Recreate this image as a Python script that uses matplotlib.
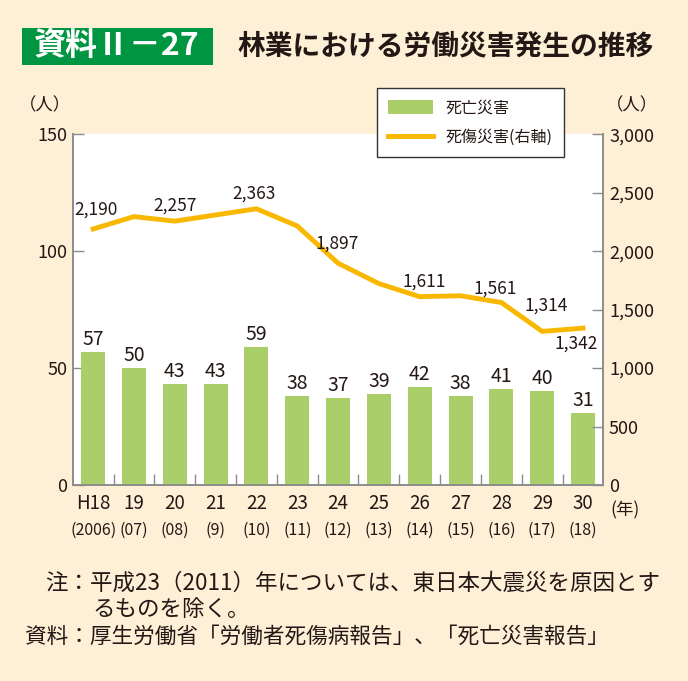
import matplotlib
matplotlib.use("Agg")
import matplotlib.pyplot as plt
from matplotlib.patches import Rectangle, Patch
from matplotlib.lines import Line2D
import numpy as np

plt.rcParams['font.family'] = ['Noto Sans CJK JP', 'DejaVu Sans']

# データ
years_jp = ["H18", "19", "20", "21", "22", "23", "24", "25", "26", "27", "28", "29", "30"]
years_ad = ["(2006)", "(07)", "(08)", "(9)", "(10)", "(11)", "(12)", "(13)", "(14)", "(15)", "(16)", "(17)", "(18)"]
deaths = [57, 50, 43, 43, 59, 38, 37, 39, 42, 38, 41, 40, 31]
casualties = [2190, 2296, 2257, 2310, 2363, 2216, 1897, 1723, 1611, 1619, 1561, 1314, 1342]
# ラベルを表示する点 (index) とその位置ずれ (pixels)
label_idx = [0, 2, 4, 6, 8, 10, 11, 12]
label_off = [(3, 19), (0, 16), (-2, 15), (-1, 20), (4, 15), (-6, 14), (4, 26), (-7, -16)]

BG = "#FDF0D6"
GREEN = "#A9CE6A"
YELLOW = "#F8B800"
TXT = "#231815"
GRAY = "#8C8C8C"

fig = plt.figure(figsize=(6.88, 6.81), dpi=100)
fig.patch.set_facecolor(BG)

ax = fig.add_axes([0.1057, 0.2878, 0.7714, 0.515])
ax.set_facecolor("white")
x = np.arange(len(years_jp))
ax.bar(x, deaths, width=0.59, color=GREEN, zorder=2)
for xi, v in zip(x, deaths):
    ax.annotate(str(v), (xi, v), xytext=(0, 2), textcoords="offset pixels",
                ha="center", va="bottom", fontsize=14, color=TXT)

ax.set_xlim(-0.5, len(x) - 0.5)
ax.set_ylim(0, 150)
ax.set_yticks([0, 50, 100, 150])
ax.set_yticklabels(["0", "50", "100", "150"])
ax.set_xticks(x)
ax.set_xticklabels([])
ax.set_xticks(np.arange(0.5, len(x) - 0.5, 1), minor=True)
ax.tick_params(axis="x", which="major", length=0)
ax.tick_params(axis="x", which="minor", direction="in", length=8, color=GRAY, width=1)
ax.tick_params(axis="y", direction="in", length=8, color=GRAY, width=1,
               labelsize=13, labelcolor=TXT, pad=4)
for s in ["left", "bottom", "right"]:
    ax.spines[s].set_color(GRAY)
    ax.spines[s].set_linewidth(1.2)
ax.spines["top"].set_visible(False)

for xi, a, b in zip(x, years_jp, years_ad):
    ax.text(xi, -0.022, a, transform=ax.get_xaxis_transform(), ha="center", va="top",
            fontsize=13.5, color=TXT)
    ax.text(xi, -0.105, b, transform=ax.get_xaxis_transform(), ha="center", va="top",
            fontsize=11.5, color=TXT)

ax2 = ax.twinx()
ax2.plot(x, casualties, color=YELLOW, lw=3.5, solid_joinstyle="miter", zorder=3)
ax2.set_ylim(0, 3000)
ax2.set_yticks([0, 500, 1000, 1500, 2000, 2500, 3000])
ax2.set_yticklabels(["0", "500", "1,000", "1,500", "2,000", "2,500", "3,000"])
ax2.tick_params(axis="y", direction="in", length=8, color=GRAY, width=1,
                labelsize=13, labelcolor=TXT, pad=4)
for s in ["left", "bottom", "right"]:
    ax2.spines[s].set_color(GRAY)
    ax2.spines[s].set_linewidth(1.2)
ax2.spines["top"].set_visible(False)
for i, (dx, dy) in zip(label_idx, label_off):
    ax2.annotate(f"{casualties[i]:,}", (x[i], casualties[i]), xytext=(dx, dy),
                 textcoords="offset pixels", ha="center", va="center",
                 fontsize=12.5, color=TXT)

# 単位
fig.text(45 / 688, 1 - 105 / 681, "（人）", ha="center", va="center", fontsize=12.5, color=TXT)
fig.text(632 / 688, 1 - 105 / 681, "（人）", ha="center", va="center", fontsize=12.5, color=TXT)
fig.text(625 / 688, 1 - 510 / 681, "(年)", ha="center", va="center", fontsize=12.5, color=TXT)

# 凡例
handles = [Patch(facecolor=GREEN, edgecolor="none"),
           Line2D([0], [0], color=YELLOW, lw=3.5)]
leg = fig.legend(handles, ["死亡災害", "死傷災害(右軸)"],
                 loc="upper left", bbox_to_anchor=(377 / 688, 1 - 88 / 681),
                 fontsize=11.5, frameon=True, fancybox=False, edgecolor="#333333",
                 framealpha=1, handlelength=2.8, handleheight=1.0,
                 borderpad=0.7, labelspacing=0.8, borderaxespad=0)
leg.get_frame().set_linewidth(1.0)
for t in leg.get_texts():
    t.set_color(TXT)

# タイトル
fig.patches.append(Rectangle((22 / 688, 1 - 65 / 681), 191 / 688, 37 / 681,
                             transform=fig.transFigure, facecolor="#009540",
                             edgecolor="none"))
fig.text(117 / 688, 1 - 46 / 681, "資料Ⅱ－27", ha="center", va="center",
         fontsize=23, color="white", fontweight="bold")
fig.text(237 / 688, 1 - 46 / 681, "林業における労働災害発生の推移", ha="left", va="center",
         fontsize=20, color=TXT, fontweight="bold")

# 注記
fig.text(45 / 688, 1 - 583 / 681, "注：平成23（2011）年については、東日本大震災を原因とす",
         ha="left", va="center", fontsize=16.2, color=TXT)
fig.text(92 / 688, 1 - 610 / 681, "るものを除く。", ha="left", va="center", fontsize=16.2, color=TXT)
fig.text(25 / 688, 1 - 637 / 681, "資料：厚生労働省「労働者死傷病報告」、「死亡災害報告」",
         ha="left", va="center", fontsize=15.6, color=TXT)

fig.savefig("out.png", dpi=100, facecolor=BG)
